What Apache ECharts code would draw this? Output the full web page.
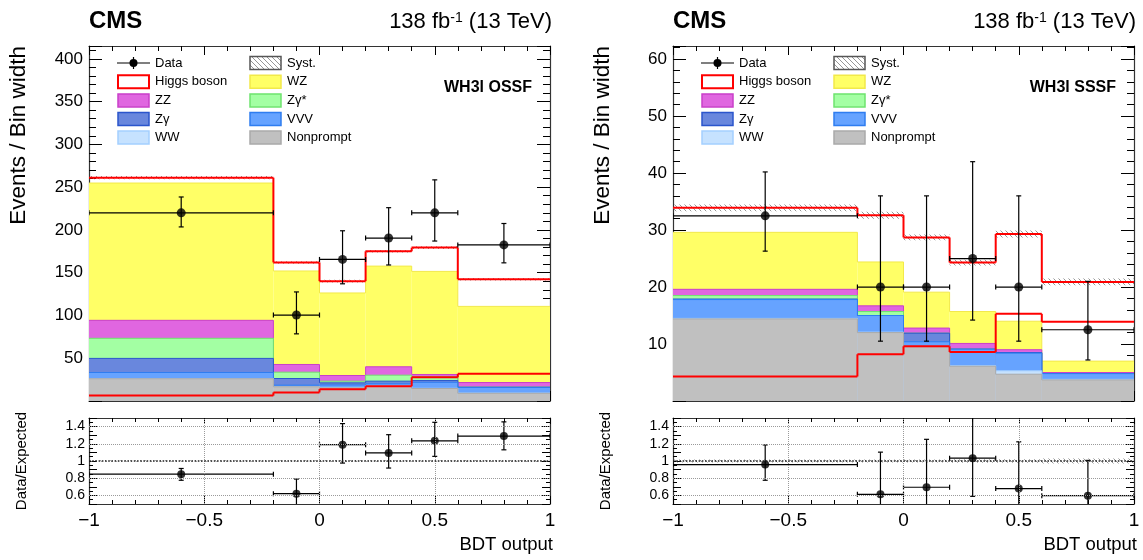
<!DOCTYPE html>
<html><head><meta charset="utf-8">
<script src="https://cdn.jsdelivr.net/npm/echarts@6/dist/echarts.min.js"></script>
<style>html,body{margin:0;padding:0;background:#fff}#c{width:1143px;height:560px}</style>
</head><body><div id="c"></div>
<script>
// ---------------- data ----------------
const binEdges = [-1, -0.2, 0, 0.2, 0.4, 0.6, 1];
const binCenters = [-0.6, -0.1, 0.1, 0.3, 0.5, 0.8];
const ratioYLabels = [0.6, 0.8, 1, 1.2, 1.4];

// WH3l OSSF (events / bin width)
const ossfNonprompt = [26.0, 16.6, 15.4, 17.3, 14.6, 9.0];
const ossfWW        = [0.3, 0.3, 0.3, 0.3, 0.3, 0.3];
const ossfVVV       = [7.0, 1.6, 3.0, 2.5, 7.0, 6.5];
const ossfZg        = [16.5, 7.8, 2.5, 3.1, 2.0, 0.3];
const ossfZgStar    = [23.5, 7.4, 2.0, 7.0, 4.7, 0.2];
const ossfZZ        = [21.0, 9.0, 6.6, 9.8, 2.4, 5.3];
const ossfWZ        = [160.5, 109.3, 96.5, 117.7, 120.5, 89.0];
const ossfHiggs     = [6.3, 10.0, 13.8, 17.3, 27.8, 31.8];
const ossfSyst      = [2.0, 1.5, 1.5, 1.5, 1.5, 1.5];
const ossfData      = [220.0, 100.5, 165.5, 190.5, 220.0, 182.5];
const ossfDataUp    = [18.5, 27.0, 33.5, 35.5, 38.5, 25.0];
const ossfDataDown  = [16.5, 22.0, 28.5, 31.5, 33.0, 21.0];
const ossfRatio     = [0.847, 0.62, 1.19, 1.094, 1.235, 1.29];
const ossfRatioUp   = [0.066, 0.17, 0.245, 0.212, 0.215, 0.165];
const ossfRatioDown = [0.071, 0.137, 0.214, 0.176, 0.181, 0.16];

// WH3l SSSF (events / bin width)
const sssfNonprompt = [14.4, 12.0, 9.5, 6.1, 4.7, 3.7];
const sssfWW        = [0.1, 0.1, 0.1, 0.1, 0.6, 0.1];
const sssfVVV       = [3.3, 2.9, 0.8, 2.9, 3.1, 1.0];
const sssfZg        = [0.1, 0.0, 1.5, 0.0, 0.1, 0.0];
const sssfZgStar    = [0.6, 0.7, 0.0, 0.0, 0.0, 0.0];
const sssfZZ        = [1.1, 1.0, 0.9, 1.0, 0.5, 0.2];
const sssfWZ        = [10.0, 7.7, 6.3, 5.6, 5.0, 2.0];
const sssfHiggs     = [4.3, 8.2, 9.6, 8.6, 15.3, 13.9];
const sssfSyst      = [0.6, 0.6, 0.5, 0.5, 0.6, 0.6];
const sssfData      = [32.5, 20.0, 20.0, 25.0, 20.0, 12.5];
const sssfDataUp    = [7.7, 16.0, 16.0, 17.0, 16.0, 8.5];
const sssfDataDown  = [6.2, 9.5, 9.5, 10.8, 9.5, 5.3];
const sssfRatio     = [0.959, 0.613, 0.695, 1.033, 0.679, 0.597];
const sssfRatioUp   = [0.228, 0.49, 0.557, 0.70, 0.544, 0.41];
const sssfRatioDown = [0.183, 0.29, 0.331, 0.444, 0.323, 0.255];

// ---------------- styles ----------------
const FONT = "'Liberation Sans', Arial, Helvetica, sans-serif";
const procStyles = {
  Nonprompt: {fill: '#c0c0c0', line: '#a9a9a9'},
  WW:        {fill: '#c6e2ff', line: '#a4cfff'},
  VVV:       {fill: '#66a3ff', line: '#2f7df0'},
  'Zγ':      {fill: '#6987dd', line: '#2b55cc'},
  'Zγ*':     {fill: '#a3ffa3', line: '#6fe36f'},
  ZZ:        {fill: '#e066e0', line: '#c93fc9'},
  WZ:        {fill: '#ffff66', line: '#f2e94a'}
};
const RED = '#ff0000';

const hatch = (() => {
  const n = 5;
  const c = document.createElement('canvas');
  c.width = n; c.height = n;
  const g = c.getContext('2d');
  g.strokeStyle = '#8a8a8a'; g.lineWidth = 0.9;
  g.beginPath();
  for (let k = -1; k <= 1; k++) { g.moveTo(k * n, 0); g.lineTo(k * n + n, n); }
  g.stroke();
  return c;
})();
const hatchFill = {image: hatch, repeat: 'repeat'};

const panels = [
  {L: 89, label: 'WH3l OSSF', ymax: 415, yint: 50,
   procs: [['Nonprompt', ossfNonprompt], ['WW', ossfWW], ['VVV', ossfVVV], ['Zγ', ossfZg],
           ['Zγ*', ossfZgStar], ['ZZ', ossfZZ], ['WZ', ossfWZ]],
   higgs: ossfHiggs, syst: ossfSyst, data: ossfData, up: ossfDataUp, dn: ossfDataDown,
   ratio: ossfRatio, rup: ossfRatioUp, rdn: ossfRatioDown},
  {L: 673, label: 'WH3l SSSF', ymax: 62.3, yint: 10,
   procs: [['Nonprompt', sssfNonprompt], ['WW', sssfWW], ['VVV', sssfVVV], ['Zγ', sssfZg],
           ['Zγ*', sssfZgStar], ['ZZ', sssfZZ], ['WZ', sssfWZ]],
   higgs: sssfHiggs, syst: sssfSyst, data: sssfData, up: sssfDataUp, dn: sssfDataDown,
   ratio: sssfRatio, rup: sssfRatioUp, rdn: sssfRatioDown}
];
const W = 461, MAIN_TOP = 46, MAIN_H = 355, RATIO_TOP = 418, RATIO_H = 86;

// ---------------- helpers ----------------
// histogram items: [lo, hi, bottom, top, previousTop]
const histItems = (top, bottom) => top.map((v, i) =>
  [binEdges[i], binEdges[i + 1], bottom ? bottom[i] : 0, v, i > 0 ? top[i - 1] : NaN]);

function histRender(fill, stroke, lw) {
  return (params, api) => {
    const lo = api.value(0), hi = api.value(1), top = api.value(3), prev = api.value(4);
    const a = api.coord([lo, top]);
    const b = api.coord([hi, api.value(2)]);
    const ch = [];
    if (fill) ch.push({type: 'rect', shape: {x: a[0], y: a[1], width: b[0] - a[0], height: b[1] - a[1]},
                       style: {fill: fill}});
    if (stroke) {
      ch.push({type: 'line', shape: {x1: a[0], y1: a[1], x2: b[0], y2: a[1]},
               style: {stroke: stroke, lineWidth: lw}});
      if (!isNaN(prev)) {
        const p = api.coord([lo, prev]);
        ch.push({type: 'line', shape: {x1: a[0], y1: p[1], x2: a[0], y2: a[1]},
                 style: {stroke: stroke, lineWidth: lw}});
      }
    }
    return {type: 'group', children: ch};
  };
}
function errRender(params, api) {
  const x = api.value(0), y = api.value(1);
  const c = api.coord([x, y]);
  const l = api.coord([api.value(2), y]), r = api.coord([api.value(3), y]);
  const lo = api.coord([x, api.value(4)]), hi = api.coord([x, api.value(5)]);
  const st = {stroke: '#000', lineWidth: 1.2};
  const cap = 2.5;
  return {type: 'group', children: [
    {type: 'line', shape: {x1: l[0], y1: c[1], x2: r[0], y2: c[1]}, style: st},
    {type: 'line', shape: {x1: l[0], y1: c[1] - cap, x2: l[0], y2: c[1] + cap}, style: st},
    {type: 'line', shape: {x1: r[0], y1: c[1] - cap, x2: r[0], y2: c[1] + cap}, style: st},
    {type: 'line', shape: {x1: c[0], y1: lo[1], x2: c[0], y2: hi[1]}, style: st},
    {type: 'line', shape: {x1: c[0] - cap, y1: lo[1], x2: c[0] + cap, y2: lo[1]}, style: st},
    {type: 'line', shape: {x1: c[0] - cap, y1: hi[1], x2: c[0] + cap, y2: hi[1]}, style: st}
  ]};
}
const axisLineStyle = {color: '#333', width: 1.2};
const minusFmt = v => v < 0 ? '\u2212' + (-v) : String(v);

function xAxisPair(gi, isRatio) {
  const base = {type: 'value', gridIndex: gi, min: -1, max: 1, interval: 0.5,
    axisLine: {show: true, onZero: false, lineStyle: axisLineStyle},
    axisTick: {show: true, inside: true, length: isRatio ? 8 : 10, lineStyle: {color: '#000', width: 1}},
    minorTick: {show: true, splitNumber: 5, length: isRatio ? 4 : 5, lineStyle: {color: '#000', width: 1}},
    splitLine: {show: false}, minorSplitLine: {show: false}};
  return [
    Object.assign({}, base, {position: 'bottom',
      axisLabel: {show: isRatio, formatter: minusFmt, fontSize: 19, fontFamily: FONT, color: '#000', margin: 7}}),
    Object.assign({}, base, {position: 'top', axisLabel: {show: false},
      axisTick: Object.assign({}, base.axisTick, {length: isRatio ? 6 : 9})})
  ];
}
function yAxisPair(gi, p, isRatio) {
  const base = isRatio ? {
      type: 'value', gridIndex: gi, min: 0.5, max: 1.5, interval: 0.1,
      axisTick: {show: true, inside: true, length: 8, lineStyle: {color: '#000', width: 1}},
      minorTick: {show: true, splitNumber: 2, length: 4, lineStyle: {color: '#000', width: 1}}
    } : {
      type: 'value', gridIndex: gi, min: 0, max: p.ymax, interval: p.yint,
      axisTick: {show: true, inside: true, length: 13, lineStyle: {color: '#000', width: 1}},
      minorTick: {show: true, splitNumber: 5, length: 7, lineStyle: {color: '#000', width: 1}}
    };
  Object.assign(base, {axisLine: {show: true, onZero: false, lineStyle: axisLineStyle},
    splitLine: {show: false}, minorSplitLine: {show: false}});
  const lbl = isRatio ? {
      show: true, fontSize: 14, fontFamily: FONT, color: '#000', margin: 4,
      formatter: v => { const r = Math.round(v * 10) / 10;
        return ratioYLabels.some(t => Math.abs(t - r) < 1e-6) ? String(r) : ''; }
    } : {
      show: true, fontSize: 17, fontFamily: FONT, color: '#000', margin: 6,
      formatter: v => v === 0 ? '' : String(v)
    };
  return [
    Object.assign({}, base, {position: 'left', axisLabel: lbl}),
    Object.assign({}, base, {position: 'right', axisLabel: {show: false}})
  ];
}

// ---------------- option ----------------
const option = {animation: false, backgroundColor: '#fff',
  grid: [], xAxis: [], yAxis: [], series: [], graphic: {elements: []}};

panels.forEach((p, pi) => {
  const gMain = 2 * pi, gRatio = 2 * pi + 1;
  option.grid.push({left: p.L, top: MAIN_TOP, width: W, height: MAIN_H, containLabel: false, outerBoundsMode: 'none'});
  option.grid.push({left: p.L, top: RATIO_TOP, width: W, height: RATIO_H, containLabel: false, outerBoundsMode: 'none'});
  option.xAxis.push(...xAxisPair(gMain, false), ...xAxisPair(gRatio, true));
  option.yAxis.push(...yAxisPair(gMain, p, false), ...yAxisPair(gRatio, p, true));
  const xm = 2 * gMain, ym = 2 * gMain, xr = 2 * gRatio, yr = 2 * gRatio;

  // cumulative stack (bottom -> top), drawn ROOT-style from the top layer down
  let run = binCenters.map(() => 0);
  const cum = p.procs.map(([name, vals]) => { run = run.map((r, i) => r + vals[i]); return [name, run.slice()]; });
  cum.slice().reverse().forEach(([name, top]) => {
    const s = procStyles[name];
    option.series.push({type: 'custom', name: name, xAxisIndex: xm, yAxisIndex: ym, clip: true, silent: true,
      renderItem: histRender(s.fill, s.line, 1), encode: {x: [0, 1], y: [2, 3]}, data: histItems(top)});
  });
  const bkg = run;
  const total = bkg.map((v, i) => v + p.higgs[i]);

  // syst band on total
  option.series.push({type: 'custom', xAxisIndex: xm, yAxisIndex: ym, clip: true, silent: true,
    renderItem: histRender(hatchFill, null, 0), encode: {x: [0, 1], y: [2, 3]},
    data: histItems(total.map((t, i) => t + p.syst[i]), total.map((t, i) => t - p.syst[i]))});
  // Higgs alone and total (outlines)
  option.series.push({type: 'custom', name: 'Higgs boson', xAxisIndex: xm, yAxisIndex: ym, clip: true, silent: true,
    renderItem: histRender(null, RED, 2), encode: {x: [0, 1], y: [2, 3]}, data: histItems(p.higgs)});
  option.series.push({type: 'custom', name: 'Total', xAxisIndex: xm, yAxisIndex: ym, clip: true, silent: true,
    renderItem: histRender(null, RED, 2), encode: {x: [0, 1], y: [2, 3]}, data: histItems(total)});
  // data
  option.series.push({type: 'custom', xAxisIndex: xm, yAxisIndex: ym, clip: true, silent: true,
    renderItem: errRender, encode: {x: 0, y: 1},
    data: binCenters.map((c, i) => [c, p.data[i], binEdges[i], binEdges[i + 1], p.data[i] - p.dn[i], p.data[i] + p.up[i]])});
  option.series.push({type: 'scatter', xAxisIndex: xm, yAxisIndex: ym, symbolSize: 9, silent: true,
    itemStyle: {color: '#000'}, data: binCenters.map((c, i) => [c, p.data[i]])});

  // ratio panel
  const gridLine = {type: 'dotted', color: '#9a9a9a', width: 1};
  option.series.push({type: 'custom', xAxisIndex: xr, yAxisIndex: yr, clip: true, silent: true,
    renderItem: histRender(hatchFill, null, 0), encode: {x: [0, 1], y: [2, 3]},
    data: histItems(p.syst.map((s, i) => 1 + s / total[i]), p.syst.map((s, i) => 1 - s / total[i])),
    markLine: {silent: true, symbol: ['none', 'none'], label: {show: false}, lineStyle: gridLine,
      data: [{yAxis: 0.6}, {yAxis: 0.8}, {yAxis: 1.2}, {yAxis: 1.4},
             {xAxis: -0.5}, {xAxis: 0}, {xAxis: 0.5},
             {yAxis: 1, lineStyle: {type: 'dotted', color: '#222', width: 1.6}}]}});
  option.series.push({type: 'custom', xAxisIndex: xr, yAxisIndex: yr, clip: true, silent: true,
    renderItem: errRender, encode: {x: 0, y: 1},
    data: binCenters.map((c, i) => [c, p.ratio[i], binEdges[i], binEdges[i + 1], p.ratio[i] - p.rdn[i], p.ratio[i] + p.rup[i]])});
  option.series.push({type: 'scatter', xAxisIndex: xr, yAxisIndex: yr, symbolSize: 8, silent: true,
    itemStyle: {color: '#000'}, data: binCenters.map((c, i) => [c, p.ratio[i]])});

  // ---------------- texts and legend ----------------
  const E = option.graphic.elements;
  const L = p.L;
  const text = (x, y, t, font, align, extra) => Object.assign({type: 'text', x: x, y: y, silent: true,
    style: {text: t, font: font, fill: '#000', align: align, verticalAlign: 'middle'}}, extra || {});
  E.push(text(L, 21, 'CMS', `bold 24px ${FONT}`, 'left'));
  E.push({type: 'text', x: L + 463, y: 22, silent: true, style: {
    text: '{a|138 fb}{s|-1}{a| (13 TeV)}', align: 'right', verticalAlign: 'middle',
    rich: {a: {fontSize: 22, fontFamily: FONT, fill: '#000'},
           s: {fontSize: 14, fontFamily: FONT, fill: '#000', verticalAlign: 'top'}}}});
  E.push(text(L + W - 18, 88, p.label, `bold 16px ${FONT}`, 'right'));
  E.push(text(L - 70, 46, 'Events / Bin width', `22.5px ${FONT}`, 'right', {rotation: Math.PI / 2}));
  E.push(text(L - 67, 461, 'Data/Expected', `15px ${FONT}`, 'center', {rotation: Math.PI / 2}));
  E.push(text(L + W + 3, 545, 'BDT output', `18.5px ${FONT}`, 'right'));

  const rows = [63, 81.7, 100.4, 119, 137.6];
  const c1b = L + 29, c1t = L + 66, c2b = L + 161, c2t = L + 198, bw = 31, bh = 13;
  const box = (x, y, fill, stroke, lw) => ({type: 'rect', silent: true,
    shape: {x: x, y: y - bh / 2, width: bw, height: bh}, style: {fill: fill, stroke: stroke, lineWidth: lw}});
  const lt = (x, y, t) => text(x, y, t, `13px ${FONT}`, 'left');
  // Data entry
  E.push({type: 'line', silent: true, shape: {x1: c1b - 1, y1: rows[0], x2: c1b + bw + 1, y2: rows[0]}, style: {stroke: '#000', lineWidth: 1.2}});
  E.push({type: 'line', silent: true, shape: {x1: c1b + bw / 2, y1: rows[0] - 6, x2: c1b + bw / 2, y2: rows[0] + 6}, style: {stroke: '#000', lineWidth: 1.2}});
  E.push({type: 'circle', silent: true, shape: {cx: c1b + bw / 2, cy: rows[0], r: 4}, style: {fill: '#000'}});
  E.push(lt(c1t, rows[0], 'Data'));
  E.push(box(c1b, rows[1], '#fff', RED, 2)); E.push(lt(c1t, rows[1], 'Higgs boson'));
  [['ZZ', 2], ['Zγ', 3], ['WW', 4]].forEach(([n, r]) => {
    E.push(box(c1b, rows[r], procStyles[n].fill, procStyles[n].line, 1.5)); E.push(lt(c1t, rows[r], n));
  });
  E.push(box(c2b, rows[0], hatchFill, '#555', 1.5)); E.push(lt(c2t, rows[0], 'Syst.'));
  [['WZ', 1], ['Zγ*', 2], ['VVV', 3], ['Nonprompt', 4]].forEach(([n, r]) => {
    E.push(box(c2b, rows[r], procStyles[n].fill, procStyles[n].line, 1.5)); E.push(lt(c2t, rows[r], n));
  });
});

const chart = echarts.init(document.getElementById('c'), null, {renderer: 'canvas'});
chart.setOption(option);
</script>
</body></html>
